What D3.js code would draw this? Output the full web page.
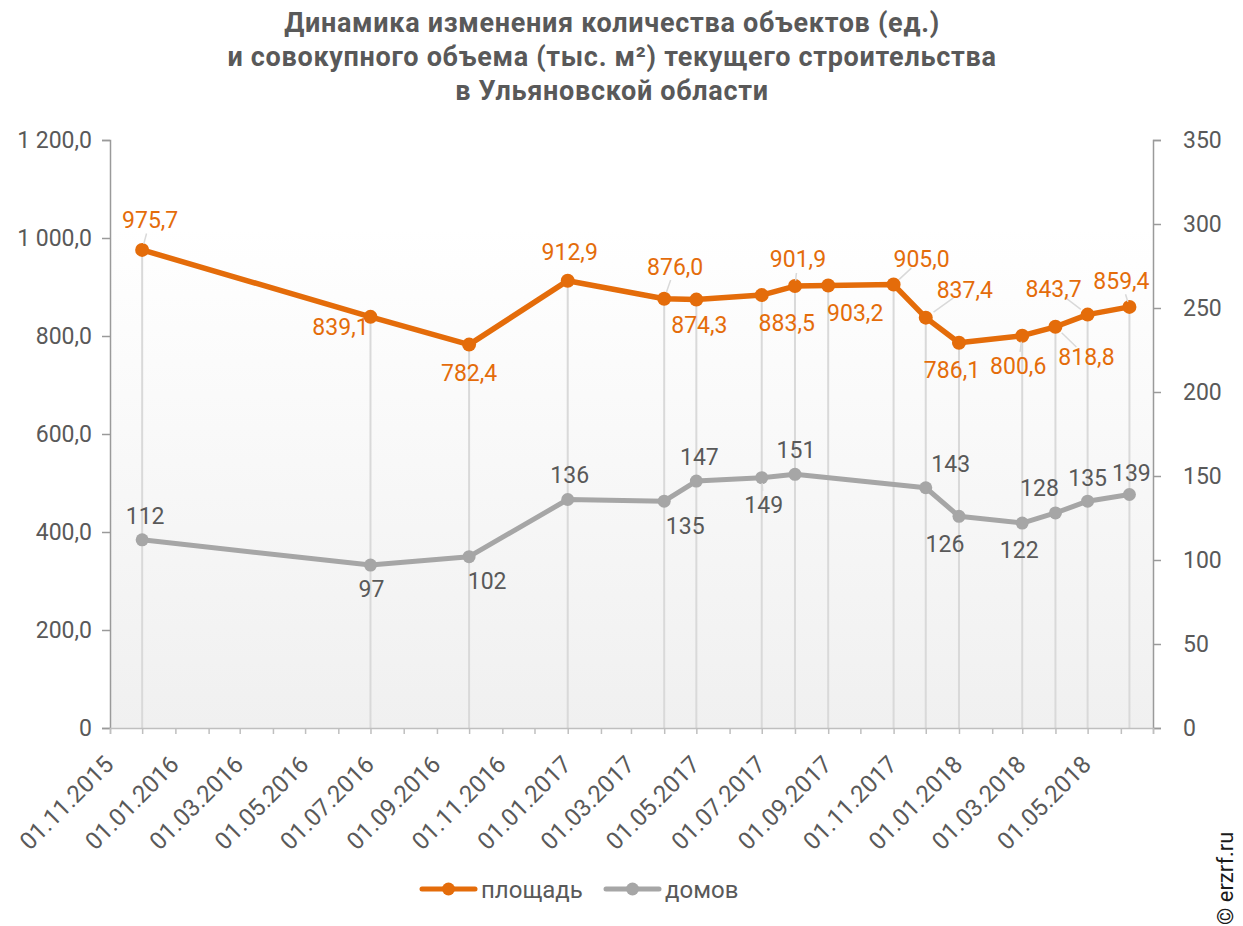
<!DOCTYPE html>
<html>
<head>
<meta charset="utf-8">
<script src="https://cdn.jsdelivr.net/npm/d3@7"></script>
<style>
  body { margin: 0; background: #fff; }
  text { font-family: Roboto, "Noto Sans", sans-serif; }
</style>
</head>
<body>
<div id="chart"></div>
<script>
const width = 1243;
const height = 926;

// данные
const dates = ["01.12.2015", "01.07.2016", "01.10.2016", "01.01.2017", "01.04.2017", "01.05.2017",
  "01.07.2017", "01.08.2017", "01.09.2017", "01.11.2017", "01.12.2017", "01.01.2018",
  "01.03.2018", "01.04.2018", "01.05.2018", "09.06.2018"];
const area = [975.7, 839.1, 782.4, 912.9, 876.0, 874.3, 883.5, 901.9, 903.2, 905.0, 837.4, 786.1, 800.6, 818.8, 843.7, 859.4];
const houses = [112, 97, 102, 136, 135, 147, 149, 151, null, null, 143, 126, 122, 128, 135, 139];
const leftTicks = [0, 200, 400, 600, 800, 1000, 1200];
const rightTicks = [0, 50, 100, 150, 200, 250, 300, 350];
const seriesNames = ["площадь", "домов"];
const titleLines = ["Динамика изменения количества объектов (ед.)",
  "и совокупного объема (тыс. м²) текущего строительства",
  "в Ульяновской области"];

// сдвиги подписей [dx, dy, выноска]
const areaLabelPos = [[8, -30, 1], [-30, 10, 0], [0, 28, 0], [2, -29, 0], [11, -32, 1], [3, 25, 0],
  [25, 28, 0], [3, -27, 1], [27, 27, 0], [28, -26, 1], [39, -28, 1], [-7, 27, 0],
  [-4, 30, 1], [31, 30, 1], [-34, -26, 1], [-8, -26, 1]];
const houseLabelPos = [[3, -24, 0], [1, 24, 0], [18, 24, 0], [2, -25, 0], [21, 25, 0], [3, -24, 0],
  [2, 27, 1], [1, -25, 0], null, null, [25, -24, 0], [-14, 27, 0],
  [-3, 27, 0], [-16, -25, 0], [0, -23, 0], [2, -22, 0]];

const orange = "#e46c0a";
const grey = "#a6a6a6";
const textGrey = "#595959";

const ru = d3.formatLocale({decimal: ",", thousands: "\u00a0", grouping: [3], currency: ["", ""]});
const f1 = ru.format(",.1f");
const parse = d3.timeParse("%d.%m.%Y");

const margin = {top: 140, right: 90, bottom: 198, left: 110};

const x = d3.scaleTime()
    .domain([parse("01.11.2015"), parse("01.07.2018")])
    .range([margin.left, width - margin.right]);
const yL = d3.scaleLinear().domain([0, 1200]).range([height - margin.bottom, margin.top]);
const yR = d3.scaleLinear().domain([0, 350]).range([height - margin.bottom, margin.top]);

const rows = dates.map((d, i) => ({date: parse(d), area: area[i], houses: houses[i], i}));

const svg = d3.select("#chart")
    .append("svg")
    .attr("width", width)
    .attr("height", height)
    .attr("viewBox", `0 0 ${width} ${height}`);

// фон области построения
const grad = svg.append("defs").append("linearGradient")
    .attr("id", "bg").attr("x1", 0).attr("y1", 0).attr("x2", 0).attr("y2", 1);
grad.append("stop").attr("offset", 0).attr("stop-color", "#ffffff");
grad.append("stop").attr("offset", 0.15).attr("stop-color", "#ffffff");
grad.append("stop").attr("offset", 1).attr("stop-color", "#f0f0f0");

svg.append("rect")
    .attr("x", x.range()[0])
    .attr("y", yL(1200))
    .attr("width", x.range()[1] - x.range()[0])
    .attr("height", yL(0) - yL(1200))
    .attr("fill", "url(#bg)");

// заголовок
svg.append("g").selectAll("text")
    .data(titleLines)
    .join("text")
    .attr("x", 612)
    .attr("y", (d, i) => 32 + i * 34)
    .attr("text-anchor", "middle")
    .attr("font-size", 27)
    .attr("letter-spacing", 0.7)
    .attr("font-weight", "bold")
    .attr("fill", textGrey)
    .text(d => d);

// линии проекции
svg.append("g").selectAll("line")
    .data(rows)
    .join("line")
    .attr("x1", d => x(d.date)).attr("x2", d => x(d.date))
    .attr("y1", d => yL(d.area)).attr("y2", yL(0))
    .attr("stroke", "#d9d9d9")
    .attr("stroke-width", 2);

// оси
const axisColor = "#9a9a9a";
const gL = svg.append("g")
    .attr("transform", `translate(${margin.left},0)`)
    .call(d3.axisLeft(yL).tickValues(leftTicks).tickSize(8).tickPadding(10)
      .tickFormat(d => d === 0 ? "0" : f1(d)));
const gR = svg.append("g")
    .attr("transform", `translate(${width - margin.right},0)`)
    .call(d3.axisRight(yR).tickValues(rightTicks).tickSize(8).tickPadding(22));

const months = d3.timeMonth.range(x.domain()[0], d3.timeDay.offset(x.domain()[1], 1));
const labelled = months.filter((d, i) => i % 2 === 0 && d < parse("01.06.2018"));
const gX = svg.append("g")
    .attr("transform", `translate(0,${yL(0)})`)
    .call(d3.axisBottom(x).tickValues(months).tickSize(6).tickFormat(""));
svg.append("g").selectAll("text")
    .data(labelled)
    .join("text")
    .attr("transform", d => `translate(${x(d) + 5},${yL(0) + 38}) rotate(-45)`)
    .attr("text-anchor", "end")
    .attr("font-size", 24)
    .attr("fill", textGrey)
    .text(d3.timeFormat("%d.%m.%Y"));

[gL, gR, gX].forEach(g => {
  g.select(".domain").attr("stroke", axisColor).attr("stroke-width", 1.5);
  g.selectAll(".tick line").attr("stroke", axisColor).attr("stroke-width", 1.5);
  g.selectAll(".tick text").attr("font-size", 23).attr("fill", textGrey)
    .style("font-family", "Roboto, sans-serif");
});
gX.select(".domain").attr("stroke", "#bfbfbf");
gX.selectAll(".tick line").attr("stroke", "#bfbfbf");

// линии серий
const lineArea = d3.line().x(d => x(d.date)).y(d => yL(d.area));
const lineHouses = d3.line().x(d => x(d.date)).y(d => yR(d.houses));
const houseRows = rows.filter(d => d.houses != null);

svg.append("path")
    .datum(houseRows)
    .attr("d", lineHouses)
    .attr("fill", "none").attr("stroke", grey).attr("stroke-width", 5)
    .attr("stroke-linejoin", "round");
svg.append("g").selectAll("circle")
    .data(houseRows)
    .join("circle")
    .attr("cx", d => x(d.date)).attr("cy", d => yR(d.houses)).attr("r", 6.5)
    .attr("fill", grey);

svg.append("path")
    .datum(rows)
    .attr("d", lineArea)
    .attr("fill", "none").attr("stroke", orange).attr("stroke-width", 5.5)
    .attr("stroke-linejoin", "round");
svg.append("g").selectAll("circle")
    .data(rows)
    .join("circle")
    .attr("cx", d => x(d.date)).attr("cy", d => yL(d.area)).attr("r", 7)
    .attr("fill", orange);

// подписи данных
function labels(data, yv, pos, fmt, color) {
  const g = svg.append("g");
  data.forEach(d => {
    const p = pos[d.i];
    if (!p) return;
    const px = x(d.date), py = yv(d);
    const lx = px + p[0], ly = py + p[1];
    if (p[2]) {
      const k = 1 - 14 / Math.hypot(p[0], p[1]);
      g.append("line")
        .attr("x1", px + p[0] * 0.2).attr("y1", py + p[1] * 0.2)
        .attr("x2", px + p[0] * k).attr("y2", py + p[1] * k)
        .attr("stroke", "#d9d9d9").attr("stroke-width", 1.5);
    }
    g.append("text")
      .attr("x", lx).attr("y", ly)
      .attr("dy", "0.36em")
      .attr("text-anchor", "middle")
      .attr("font-size", 23)
      .attr("fill", color)
      .text(fmt(d));
  });
}
labels(rows, d => yL(d.area), areaLabelPos, d => f1(d.area), orange);
labels(houseRows, d => yR(d.houses), houseLabelPos, d => d.houses, textGrey);

// легенда
const legend = svg.append("g").attr("transform", `translate(0,889)`);
[[422, orange, seriesNames[0]], [606, grey, seriesNames[1]]].forEach(([lx, c, name]) => {
  legend.append("line").attr("x1", lx).attr("x2", lx + 53).attr("stroke", c)
    .attr("stroke-width", 5).attr("stroke-linecap", "round");
  legend.append("circle").attr("cx", lx + 26.5).attr("r", 6.5).attr("fill", c);
  legend.append("text").attr("x", lx + 59).attr("dy", "0.36em")
    .attr("font-size", 24).attr("fill", textGrey).text(name);
});

// копирайт
svg.append("text")
    .attr("transform", "translate(1233,925) rotate(-90)")
    .attr("font-size", 22)
    .attr("fill", "#1a1a1a")
    .text("© erzrf.ru");
</script>
</body>
</html>
